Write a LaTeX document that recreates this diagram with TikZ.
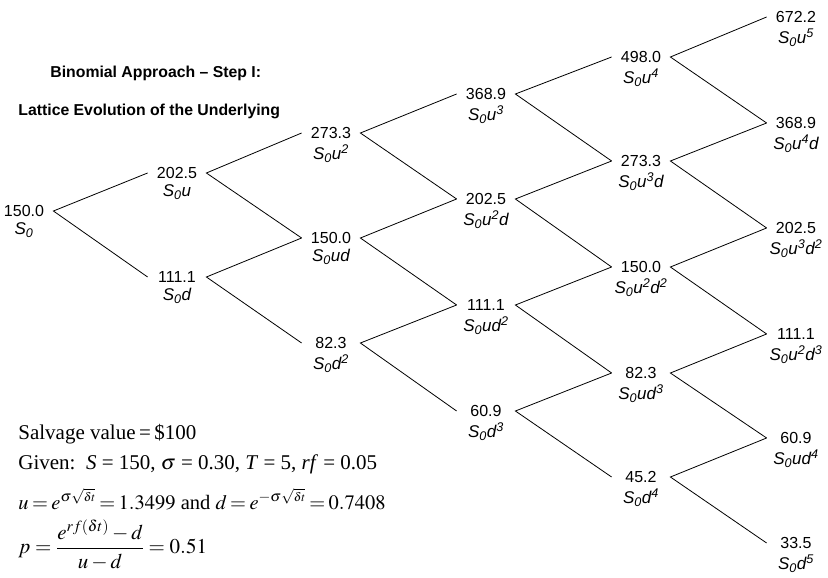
\documentclass[tikz,border=0pt]{standalone}
\usepackage{amsmath}
\usepackage{mathptmx}
\usepackage[no-math]{fontspec}
\setmainfont{Liberation Sans}
\newfontfamily\timesfont{Liberation Serif}
\usetikzlibrary{positioning}

\tikzset{
  val/.style={minimum width=58pt, inner sep=0pt, font=\fontsize{16}{18}\selectfont},
  sub/.style={inner sep=0pt, font=\fontsize{17}{19}\selectfont\itshape},
  ttl/.style={inner sep=0pt, anchor=west, font=\fontsize{15.8}{19}\selectfont\bfseries},
  txt/.style={inner sep=0pt, anchor=base west, font=\timesfont\fontsize{21}{24}\selectfont},
}

\begin{document}
\begin{tikzpicture}[x=1pt,y=-1pt,label distance=5pt,line width=0.8pt]
\useasboundingbox (0,0) rectangle (828,578);
% lattice of the underlying
\node[val,label={[sub]below:S\textsubscript{0}}] (n00) at (24,211) {150.0};
\node[val,label={[sub]below:S\textsubscript{0}u}] (n10) at (177,173) {202.5};
\node[val,label={[sub]below:S\textsubscript{0}d}] (n11) at (177,277) {111.1};
\node[val,label={[sub]below:S\textsubscript{0}u\textsuperscript{2}}] (n20) at (331,133) {273.3};
\node[val,label={[sub]below:S\textsubscript{0}ud}] (n21) at (331,238) {150.0};
\node[val,label={[sub]below:S\textsubscript{0}d\textsuperscript{2}}] (n22) at (331,343) {82.3};
\node[val,label={[sub]below:S\textsubscript{0}u\textsuperscript{3}}] (n30) at (486,94) {368.9};
\node[val,label={[sub]below:S\textsubscript{0}u\textsuperscript{2}d}] (n31) at (486,199) {202.5};
\node[val,label={[sub]below:S\textsubscript{0}ud\textsuperscript{2}}] (n32) at (486,305) {111.1};
\node[val,label={[sub]below:S\textsubscript{0}d\textsuperscript{3}}] (n33) at (486,411) {60.9};
\node[val,label={[sub]below:S\textsubscript{0}u\textsuperscript{4}}] (n40) at (641,57) {498.0};
\node[val,label={[sub]below:S\textsubscript{0}u\textsuperscript{3}d}] (n41) at (641,161) {273.3};
\node[val,label={[sub]below:S\textsubscript{0}u\textsuperscript{2}d\textsuperscript{2}}] (n42) at (641,267) {150.0};
\node[val,label={[sub]below:S\textsubscript{0}ud\textsuperscript{3}}] (n43) at (641,373) {82.3};
\node[val,label={[sub]below:S\textsubscript{0}d\textsuperscript{4}}] (n44) at (641,477) {45.2};
\node[val,label={[sub]below:S\textsubscript{0}u\textsuperscript{5}}] (n50) at (796,17) {672.2};
\node[val,label={[sub]below:S\textsubscript{0}u\textsuperscript{4}d}] (n51) at (796,123) {368.9};
\node[val,label={[sub]below:S\textsubscript{0}u\textsuperscript{3}d\textsuperscript{2}}] (n52) at (796,228) {202.5};
\node[val,label={[sub]below:S\textsubscript{0}u\textsuperscript{2}d\textsuperscript{3}}] (n53) at (796,334) {111.1};
\node[val,label={[sub]below:S\textsubscript{0}ud\textsuperscript{4}}] (n54) at (796,438) {60.9};
\node[val,label={[sub]below:S\textsubscript{0}d\textsuperscript{5}}] (n55) at (796,543) {33.5};
% branches
\draw (n10.west) -- (n00.east) -- (n11.west);
\draw (n20.west) -- (n10.east) -- (n21.west);
\draw (n21.west) -- (n11.east) -- (n22.west);
\draw (n30.west) -- (n20.east) -- (n31.west);
\draw (n31.west) -- (n21.east) -- (n32.west);
\draw (n32.west) -- (n22.east) -- (n33.west);
\draw (n40.west) -- (n30.east) -- (n41.west);
\draw (n41.west) -- (n31.east) -- (n42.west);
\draw (n42.west) -- (n32.east) -- (n43.west);
\draw (n43.west) -- (n33.east) -- (n44.west);
\draw (n50.west) -- (n40.east) -- (n51.west);
\draw (n51.west) -- (n41.east) -- (n52.west);
\draw (n52.west) -- (n42.east) -- (n53.west);
\draw (n53.west) -- (n43.east) -- (n54.west);
\draw (n54.west) -- (n44.east) -- (n55.west);
% title
\node[ttl] (title1) at (50,73) {Binomial Approach -- Step I:};
\node[ttl] (title2) at (18,111) {Lattice Evolution of the Underlying};
% given data
\node[txt] (salvage) at (18,439) {Salvage value\,=\,\$100};
\node[txt] (given) at (18,469) {Given:\, \textit{S} = 150, $\sigma$ = 0.30, \textit{T} = 5, \textit{rf} = 0.05};
\node[txt,font=\timesfont\fontsize{20.5}{24}\selectfont] (ueq) at (18,509) {\thickmuskip=3mu $u = e^{\sigma\sqrt{\scriptscriptstyle\delta t}} = 1.3499$ and $d = e^{-\sigma\sqrt{\scriptscriptstyle\delta t}} = 0.7408$};
\node[txt,anchor=west] (peq) at (18,545) {$p = \dfrac{e^{rf(\delta t)} - d}{u - d} = 0.51$};
\end{tikzpicture}
\end{document}
